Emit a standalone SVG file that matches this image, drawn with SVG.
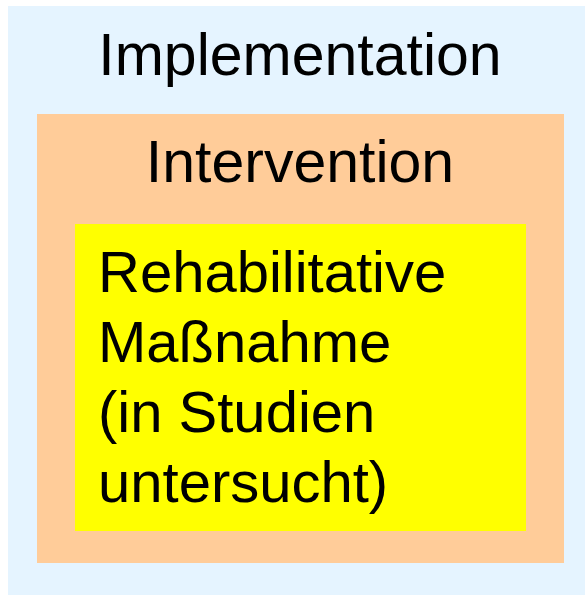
<svg xmlns="http://www.w3.org/2000/svg" width="585" height="595" viewBox="0 0 585 595">
  <style>
    .lbl { font-family: "Liberation Sans", Arial, sans-serif; fill: #000000; }
    .title { font-size: 59px; text-anchor: middle; }
    .body { font-size: 58px; }
  </style>
  <rect width="585" height="595" fill="#ffffff"/>
  <g id="implementation">
    <rect x="8" y="6" width="577" height="589" fill="#E5F4FF"/>
    <text class="lbl title" x="300" y="75">Implementation</text>
  </g>
  <g id="intervention">
    <rect x="37" y="114" width="527" height="449" fill="#FFCC99"/>
    <text class="lbl title" x="300" y="182">Intervention</text>
  </g>
  <g id="massnahme">
    <rect x="75" y="224" width="451" height="307" fill="#FFFF00"/>
    <text class="lbl body" x="98" y="292">Rehabilitative</text>
    <text class="lbl body" x="98" y="362">Maßnahme</text>
    <text class="lbl body" x="98" y="432">(in Studien</text>
    <text class="lbl body" x="98" y="502">untersucht)</text>
  </g>
  <g id="connectors"/>
</svg>
